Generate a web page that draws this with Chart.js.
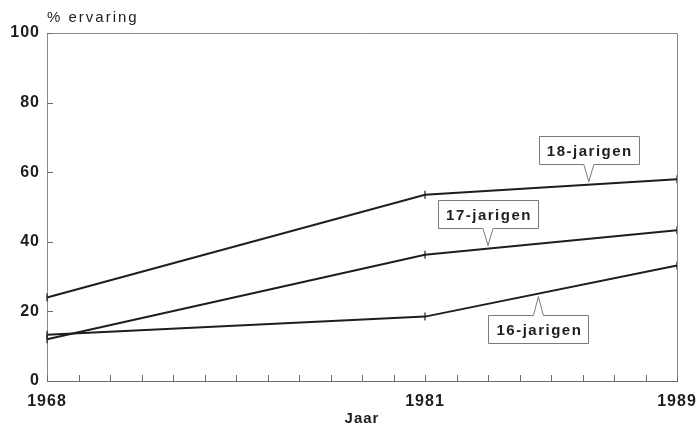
<!DOCTYPE html>
<html>
<head>
<meta charset="utf-8">
<script src="https://cdn.jsdelivr.net/npm/chart.js@4.4.0/dist/chart.umd.min.js"></script>
<style>
html, body { margin: 0; padding: 0; background: #fff; }
#wrap { width: 699px; height: 428px; position: relative; }
</style>
</head>
<body>
<div id="wrap"><canvas id="grafiek"></canvas></div>
<script>
/* DATA */
// x-as: 21 streepjes, alleen drie jaren hebben een label
const jaren = ['1968','','','','','','','','','','','','1981','','','','','','','','1989'];
const meetjaren = ['1968', '1981', '1989'];
const jarigen16 = [13.3, 18.5, 33.2];
const jarigen17 = [12, 36.3, 43.3];
const jarigen18 = [24, 53.5, 58];
const reeksNamen = ['16-jarigen', '17-jarigen', '18-jarigen'];
const yTitel = '% ervaring';
const xTitel = 'Jaar';

/* plaats van de bijschriften (index van de reeks, plek op de x-as, boven/onder) */
const bijschriften = [
  { reeks: 2, slot: 17.2, kant: 'boven' },
  { reeks: 1, slot: 14.0, kant: 'boven' },
  { reeks: 0, slot: 15.6, kant: 'onder' }
];

const inkt = '#1e1e1e';
const asKleur = '#6a6a6a';
const letterFont = '"Liberation Sans", Arial, sans-serif';

function punten(waarden) {
  return meetjaren.map((j, i) => ({ x: j, y: waarden[i] }));
}

function reeks(naam, waarden) {
  return {
    label: naam,
    data: punten(waarden),
    borderColor: inkt,
    borderWidth: 2,
    tension: 0,
    fill: false,
    pointStyle: 'line',
    pointRotation: 90,
    pointRadius: 4,
    pointBorderWidth: 1.2,
    pointBorderColor: inkt
  };
}

// letterafstand zoals in het origineel (canvas-state, gaat verloren bij resize)
const spatiering = {
  id: 'spatiering',
  beforeLayout(chart) { chart.ctx.letterSpacing = '1px'; },
  beforeDraw(chart) { chart.ctx.letterSpacing = '1px'; }
};

// kader, streepjes naar binnen, titel en bijschriften
const extras = {
  id: 'extras',
  afterDraw(chart) {
    const ctx = chart.ctx;
    const a = chart.chartArea;
    const xs = chart.scales.x;
    const ys = chart.scales.y;
    ctx.save();

    // kader boven en rechts
    ctx.strokeStyle = '#8a8a8a';
    ctx.lineWidth = 1;
    ctx.beginPath();
    ctx.moveTo(a.left, a.top + 0.5);
    ctx.lineTo(a.right + 0.5, a.top + 0.5);
    ctx.lineTo(a.right + 0.5, a.bottom);
    ctx.stroke();

    // streepjes
    ctx.strokeStyle = asKleur;
    ctx.beginPath();
    xs.ticks.forEach((t, i) => {
      const px = Math.round(xs.getPixelForTick(i)) + 0.5;
      ctx.moveTo(px, a.bottom);
      ctx.lineTo(px, a.bottom - 6);
    });
    ys.ticks.forEach((t, i) => {
      const py = Math.round(ys.getPixelForTick(i)) + 0.5;
      ctx.moveTo(a.left, py);
      ctx.lineTo(a.left + 6, py);
    });
    ctx.stroke();

    // y-titel
    ctx.letterSpacing = '2px';
    ctx.fillStyle = inkt;
    ctx.font = '15px ' + letterFont;
    ctx.textAlign = 'left';
    ctx.textBaseline = 'middle';
    ctx.fillText(yTitel, a.left, 18);

    // bijschriften met punt naar de lijn
    ctx.letterSpacing = '1.5px';
    ctx.font = 'bold 15px ' + letterFont;
    ctx.textAlign = 'center';
    bijschriften.forEach(b => {
      const pts = chart.getDatasetMeta(b.reeks).data;
      const tx = xs.getPixelForValue(b.slot);
      let ly = pts[0].y;
      for (let i = 0; i < pts.length - 1; i++) {
        if (tx >= pts[i].x && tx <= pts[i + 1].x) {
          const f = (tx - pts[i].x) / (pts[i + 1].x - pts[i].x);
          ly = pts[i].y + f * (pts[i + 1].y - pts[i].y);
        }
      }
      const tekst = reeksNamen[b.reeks];
      const bw = ctx.measureText(tekst).width + 14;
      const bh = 28;
      const l = Math.round(tx - bw / 2) + 0.5;
      const r = Math.round(tx + bw / 2) + 0.5;
      let rand, tip, boven, onder;
      if (b.kant === 'boven') {
        rand = Math.round(ly - 21) + 0.5;
        tip = ly - 3;
        boven = rand - bh; onder = rand;
      } else {
        rand = Math.round(ly + 21) + 0.5;
        tip = ly + 3;
        boven = rand; onder = rand + bh;
      }
      ctx.beginPath();
      if (b.kant === 'boven') {
        ctx.moveTo(tx + 5, onder);
        ctx.lineTo(r, onder);
        ctx.lineTo(r, boven);
        ctx.lineTo(l, boven);
        ctx.lineTo(l, onder);
        ctx.lineTo(tx - 5, onder);
      } else {
        ctx.moveTo(tx - 5, boven);
        ctx.lineTo(l, boven);
        ctx.lineTo(l, onder);
        ctx.lineTo(r, onder);
        ctx.lineTo(r, boven);
        ctx.lineTo(tx + 5, boven);
      }
      ctx.lineTo(tx, tip);
      ctx.closePath();
      ctx.fillStyle = '#fff';
      ctx.fill();
      ctx.strokeStyle = '#7a7a7a';
      ctx.lineWidth = 1;
      ctx.stroke();
      ctx.fillStyle = inkt;
      ctx.textBaseline = 'middle';
      ctx.fillText(tekst, tx + 1, (boven + onder) / 2 + 1);
    });

    ctx.restore();
  }
};

const grafiek = new Chart(document.getElementById('grafiek'), {
  type: 'line',
  data: {
    labels: jaren,
    datasets: [reeks(reeksNamen[0], jarigen16), reeks(reeksNamen[1], jarigen17), reeks(reeksNamen[2], jarigen18)]
  },
  options: {
    responsive: true,
    maintainAspectRatio: false,
    animation: false,
    layout: { padding: { top: 33, right: 22, left: 0, bottom: 0 } },
    plugins: {
      legend: { display: false },
      tooltip: { enabled: false }
    },
    scales: {
      x: {
        type: 'category',
        offset: false,
        grid: { display: false, drawTicks: false },
        border: { display: true, color: asKleur, width: 1 },
        ticks: {
          autoSkip: false,
          maxRotation: 0,
          padding: 11,
          color: inkt,
          font: { family: letterFont, size: 16, weight: 'bold' }
        },
        title: {
          display: true,
          text: xTitel,
          color: inkt,
          padding: { top: 0, bottom: 0 },
          font: { family: letterFont, size: 15, weight: 'bold' }
        },
        afterFit(s) {
          s.height = 47;
          s.paddingLeft = 0;
          s.paddingRight = 0;
        }
      },
      y: {
        min: 0,
        max: 100,
        grid: { display: false, drawTicks: false },
        border: { display: true, color: '#8a8a8a', width: 1 },
        ticks: {
          stepSize: 20,
          padding: 7,
          color: inkt,
          font: { family: letterFont, size: 16, weight: 'bold' }
        },
        afterFit(s) {
          s.width = 47;
          s.paddingTop = 0;
          s.paddingBottom = 0;
        }
      }
    }
  },
  plugins: [spatiering, extras]
});
</script>
</body>
</html>
